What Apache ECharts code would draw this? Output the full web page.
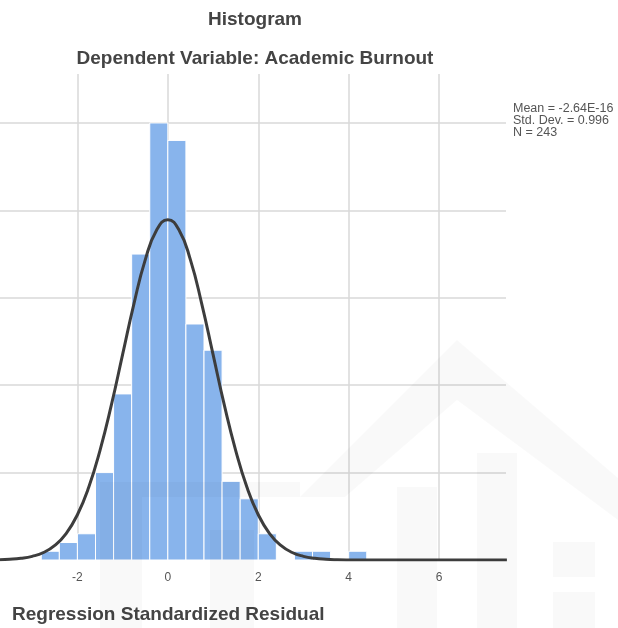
<!DOCTYPE html>
<html>
<head>
<meta charset="utf-8">
<script src="https://cdn.jsdelivr.net/npm/echarts@6/dist/echarts.min.js"></script>
<style>html,body{margin:0;padding:0;background:#fff}#chart{width:618px;height:628px}</style>
</head>
<body>
<div id="chart"></div>
<script>
// ---- data ----
const binWidth = 0.4;
const binStarts = [-2.8, -2.4, -2.0, -1.6, -1.2, -0.8, -0.4, 0.0, 0.4, 0.8, 1.2, 1.6, 2.0, 2.4, 2.8, 3.2, 3.6, 4.0];
const binCounts = [1, 2, 3, 10, 19, 35, 50, 48, 27, 24, 9, 7, 3, 0, 1, 1, 0, 1];
const curveX = [-3.75, -3.5, -3.25, -3, -2.75, -2.5, -2.25, -2, -1.75, -1.5, -1.25, -1, -0.75, -0.5, -0.25, 0,
                0.25, 0.5, 0.75, 1, 1.25, 1.5, 1.75, 2, 2.25, 2.5, 2.75, 3, 3.25, 3.5, 3.75, 4, 4.5, 5, 5.5, 6, 6.5, 7, 7.5];
const curveY = [0.03, 0.08, 0.19, 0.42, 0.86, 1.67, 3.03, 5.18, 8.32, 12.55, 17.71, 23.52, 29.31, 34.33, 37.72, 38.93,
                37.72, 34.33, 29.31, 23.52, 17.71, 12.55, 8.32, 5.18, 3.03, 1.67, 0.86, 0.42, 0.19, 0.08, 0.03, 0.01, 0, 0, 0, 0, 0, 0, 0];
const xTicks = [-2, 0, 2, 4, 6];
const statsLines = ['Mean = -2.64E-16', 'Std. Dev. = 0.996', 'N = 243'];
const titleText = 'Histogram';
const subtitleText = 'Dependent Variable: Academic Burnout';
const xAxisTitle = 'Regression Standardized Residual';

const barData = binStarts.map((s, i) => [s, +(s + binWidth).toFixed(2), binCounts[i]]);
const curveData = curveX.map((x, i) => [x, curveY[i]]);

const wm = 'rgba(0,0,0,0.025)';
const chart = echarts.init(document.getElementById('chart'));
chart.setOption({
  animation: false,
  backgroundColor: '#ffffff',
  title: [
    { text: titleText, left: 255, top: 10, textAlign: 'center', padding: 0,
      textStyle: { fontFamily: 'Liberation Sans', fontSize: 19, fontWeight: 'bold', color: '#444' } },
    { text: subtitleText, left: 255, top: 49, textAlign: 'center', padding: 0,
      textStyle: { fontFamily: 'Liberation Sans', fontSize: 19, fontWeight: 'bold', color: '#444' } },
    { text: xAxisTitle, left: 12, top: 605, padding: 0,
      textStyle: { fontFamily: 'Liberation Sans', fontSize: 19, fontWeight: 'bold', color: '#444' } },
    { text: statsLines.join('\n'), left: 513, top: 103, padding: 0,
      textStyle: { fontFamily: 'Liberation Sans', fontSize: 12.5, fontWeight: 'normal', color: '#555', lineHeight: 12 } }
  ],
  grid: { left: -13, right: 112, top: 74, bottom: 68, outerBoundsMode: 'none', containLabel: false },
  xAxis: {
    type: 'value', min: -4, max: 7.48, interval: 2,
    axisLine: { show: false }, axisTick: { show: false },
    axisLabel: { color: '#555', fontFamily: 'Liberation Sans', fontSize: 12, margin: 12,
      formatter: v => (xTicks.indexOf(v) >= 0 ? String(v) : ''), showMaxLabel: false },
    splitLine: { show: true, showMinLine: false, showMaxLine: false, lineStyle: { color: '#d8d8d8', width: 1.5 } }
  },
  yAxis: {
    type: 'value', min: 0, max: 55.6, interval: 10,
    axisLine: { show: false }, axisTick: { show: false }, axisLabel: { show: false },
    splitLine: { show: true, showMinLine: false, showMaxLine: false, lineStyle: { color: '#d8d8d8', width: 1.5 } }
  },
  series: [
    {
      type: 'custom', data: barData, z: 2,
      renderItem: (params, api) => {
        const p0 = api.coord([api.value(0), api.value(2)]);
        const p1 = api.coord([api.value(1), 0]);
        return { type: 'rect',
          shape: { x: p0[0], y: p0[1], width: p1[0] - p0[0], height: p1[1] - p0[1] },
          style: { fill: '#88B4EC', stroke: '#ffffff', lineWidth: 1 } };
      }
    },
    {
      type: 'line', data: curveData, z: 3, smooth: 0.5, showSymbol: false, clip: true,
      lineStyle: { color: '#3d3d3d', width: 3 }
    }
  ],
  graphic: [
    { type: 'polygon', z: 100, silent: true,
      shape: { points: [[300, 497], [457, 340], [618, 478], [618, 520], [457, 400], [345, 497]] },
      style: { fill: wm } },
    { type: 'rect', z: 100, silent: true, shape: { x: 100, y: 482, width: 200, height: 15 }, style: { fill: wm } },
    { type: 'rect', z: 100, silent: true, shape: { x: 100, y: 497, width: 42, height: 131 }, style: { fill: wm } },
    { type: 'rect', z: 100, silent: true, shape: { x: 210, y: 530, width: 44, height: 98 }, style: { fill: wm } },
    { type: 'rect', z: 100, silent: true, shape: { x: 397, y: 487, width: 40, height: 141 }, style: { fill: wm } },
    { type: 'rect', z: 100, silent: true, shape: { x: 477, y: 453, width: 40, height: 175 }, style: { fill: wm } },
    { type: 'rect', z: 100, silent: true, shape: { x: 553, y: 542, width: 42, height: 35 }, style: { fill: wm } },
    { type: 'rect', z: 100, silent: true, shape: { x: 553, y: 592, width: 42, height: 36 }, style: { fill: wm } }
  ]
});
</script>
</body>
</html>
